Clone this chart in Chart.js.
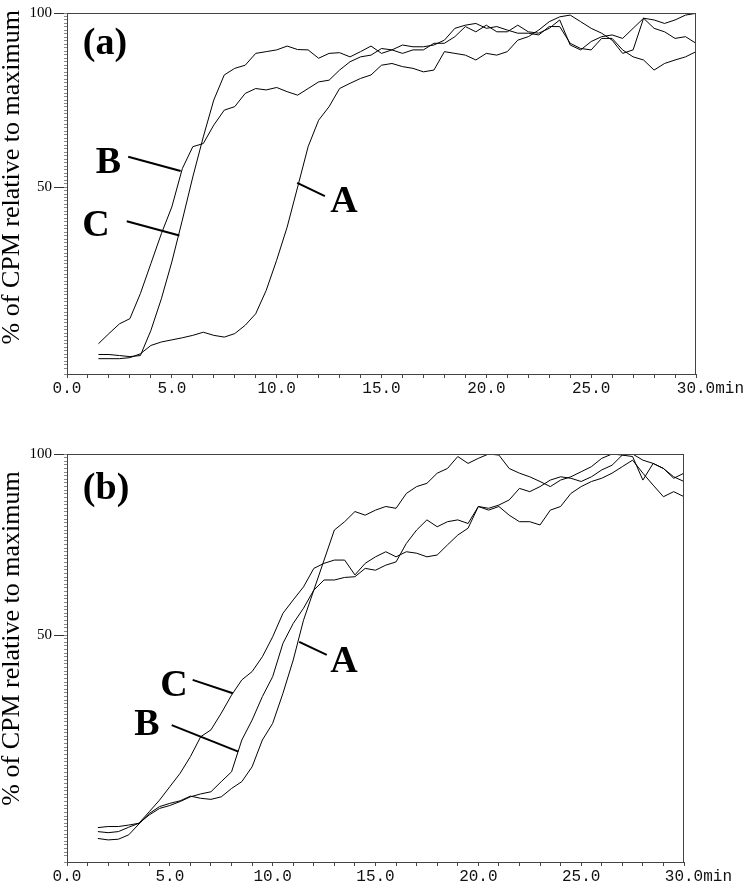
<!DOCTYPE html>
<html>
<head>
<meta charset="utf-8">
<script src="https://cdn.jsdelivr.net/npm/chart.js@4.4.1/dist/chart.umd.min.js"></script>
<style>
  html, body { margin: 0; padding: 0; background: #fff; }
  #wrap { position: relative; width: 750px; height: 881px; }
  canvas { position: absolute; left: 0; }
  #chartA { top: 0; }
  #chartB { top: 440px; }
</style>
</head>
<body>
<div id="wrap">
  <canvas id="chartA" width="750" height="440"></canvas>
  <canvas id="chartB" width="750" height="441"></canvas>
</div>
<script>
// time axis (min) shared by all traces
const minutes = [1.5, 2, 2.5, 3, 3.5, 4, 4.5, 5, 5.5, 6, 6.5, 7, 7.5, 8, 8.5, 9, 9.5, 10,
  10.5, 11, 11.5, 12, 12.5, 13, 13.5, 14, 14.5, 15, 15.5, 16, 16.5, 17, 17.5, 18, 18.5, 19,
  19.5, 20, 20.5, 21, 21.5, 22, 22.5, 23, 23.5, 24, 24.5, 25, 25.5, 26, 26.5, 27, 27.5, 28,
  28.5, 29, 29.5, 30];

// panel (a), % of CPM relative to maximum
const aCurveA = [0.7, 0.7, 0.7, 1.0, 2.1, 4.5, 5.5, 6.1, 6.7, 7.4,
  8.3, 7.4, 6.9, 7.9, 10.3, 13.6, 20.3, 29.0, 38.5, 50.0,
  61.6, 69.2, 73.1, 78.3, 79.8, 81.2, 82.2, 85.0, 85.5, 84.6,
  84.1, 83.1, 83.6, 88.9, 88.4, 87.9, 86.5, 88.4, 87.9, 88.9,
  92.2, 93.2, 95.1, 97.5, 98.9, 99.4, 97.5, 95.6, 94.2, 92.2,
  88.4, 89.4, 98.5, 98.0, 97.0, 98.0, 99.4, 99.9];
const aCurveB = [5.0, 7.9, 10.7, 12.2, 19.4, 28.0, 36.6, 44.3, 55.3, 61.6,
  62.5, 67.8, 72.1, 73.1, 76.9, 78.3, 77.9, 78.6, 77.4, 76.4,
  78.3, 80.2, 80.7, 83.6, 86.0, 87.4, 87.9, 89.8, 89.4, 90.8,
  90.3, 90.3, 90.8, 92.2, 95.6, 96.5, 97.0, 95.6, 96.1, 95.1,
  94.2, 94.2, 93.7, 96.1, 96.1, 91.3, 89.8, 89.4, 92.7, 92.7,
  89.4, 87.4, 86.5, 83.6, 85.5, 86.5, 87.4, 88.9];
const aCurveC = [1.9, 1.9, 1.6, 1.3, 1.6, 8.8, 17.9, 28.5, 40.5, 52.9,
  64.4, 75.0, 82.2, 84.1, 85.0, 88.4, 88.9, 89.4, 90.5, 89.5,
  89.4, 87.0, 88.4, 88.6, 87.4, 88.9, 90.5, 88.4, 89.4, 88.4,
  89.4, 89.4, 91.3, 91.3, 93.2, 96.1, 94.6, 96.5, 94.6, 94.6,
  96.5, 94.6, 94.2, 95.6, 98.0, 90.8, 89.4, 91.8, 93.2, 93.7,
  92.7, 95.6, 98.5, 95.6, 94.6, 92.7, 93.2, 91.3];

// panel (b)
const bCurveA = [-6.2, -6.6, -6.4, -5.2, -2.2, 0.7, 2.6, 3.5, 4.2, 5.5,
  4.9, 4.6, 5.3, 7.6, 9.5, 13.6, 21.0, 25.6, 33.9, 43.1,
  54.1, 62.4, 70.7, 79.0, 81.3, 84.1, 83.1, 84.5, 85.5, 85.0,
  89.1, 91.0, 91.9, 94.7, 96.0, 99.3, 97.4, 98.8, 100, 99.7,
  96.0, 94.7, 93.7, 92.4, 91.0, 92.8, 93.7, 95.1, 96.5, 98.8,
  100, 99.7, 99.3, 92.8, 97.4, 96.0, 93.3, 94.7];
const bCurveB = [-4.3, -4.6, -4.3, -3.1, -2.0, 0.3, 2.1, 2.9, 4.0, 5.3,
  6.1, 6.7, 9.5, 12.2, 21.0, 26.5, 33.0, 38.5, 47.7, 53.2,
  57.4, 62.4, 65.2, 65.2, 65.9, 66.1, 68.4, 67.9, 69.3, 70.2,
  75.3, 79.0, 81.8, 79.9, 81.3, 81.8, 80.8, 85.5, 85.0, 85.9,
  87.3, 90.5, 89.6, 91.0, 92.8, 93.7, 93.3, 92.4, 93.7, 95.6,
  96.9, 99.7, 100, 98.3, 97.4, 96.0, 93.7, 92.4];
const bCurveC = [-3.2, -2.9, -2.9, -2.5, -2.0, 1.2, 4.4, 8.1, 11.8, 16.4,
  21.9, 23.8, 28.4, 33.4, 37.6, 39.9, 44.0, 49.5, 56.0, 59.7,
  63.3, 68.4, 69.8, 70.7, 70.7, 66.6, 69.8, 71.6, 73.0, 71.6,
  73.0, 72.6, 71.6, 72.1, 74.9, 77.6, 79.5, 85.5, 84.5, 85.5,
  83.1, 81.3, 81.3, 80.4, 84.5, 85.5, 89.1, 91.0, 92.4, 93.3,
  94.7, 96.5, 98.3, 94.7, 91.4, 88.2, 89.6, 88.2];

// axis labels
const xTickLabels = ['0.0', '5.0', '10.0', '15.0', '20.0', '25.0', '30.0'];
const yTickValues = [50, 100];
const yTitle = '% of CPM relative to maximum';

const SERIF = '"Liberation Serif", "Times New Roman", serif';
const MONO = '"Liberation Mono", "Courier New", monospace';

function toPoints(values) {
  return values.map((v, i) => ({ x: minutes[i], y: v }));
}

// panel letters, curve names and their leader lines (data coordinates)
const annotate = {
  id: 'annotate',
  afterDatasetsDraw(chart, args, opts) {
    const { ctx, chartArea: a } = chart;
    const xs = chart.scales.x, ys = chart.scales.y;
    ctx.save();

    // frame round the plot
    ctx.strokeStyle = '#444';
    ctx.lineWidth = 1;
    ctx.strokeRect(a.left + 0.5, a.top + 0.5, a.right - a.left - 1, a.bottom - a.top);

    ctx.strokeStyle = '#000';
    ctx.lineWidth = 2;
    opts.leaders.forEach(([x1, y1, x2, y2]) => {
      ctx.beginPath();
      ctx.moveTo(xs.getPixelForValue(x1), ys.getPixelForValue(y1));
      ctx.lineTo(xs.getPixelForValue(x2), ys.getPixelForValue(y2));
      ctx.stroke();
    });

    ctx.fillStyle = '#000';
    ctx.font = 'bold 38px ' + SERIF;
    ctx.textAlign = 'center';
    ctx.textBaseline = 'alphabetic';
    opts.labels.forEach(l => {
      ctx.fillText(l.text, xs.getPixelForValue(l.x), ys.getPixelForValue(l.y));
    });

    // "min" unit right after the last tick label
    const tf = xs.options.ticks.font;
    ctx.font = tf.size + 'px ' + tf.family;
    ctx.fillStyle = '#111';
    ctx.textAlign = 'left';
    ctx.textBaseline = 'middle';
    const last = xTickLabels[xTickLabels.length - 1];
    const ux = xs.getPixelForValue(30) + ctx.measureText(last).width / 2;
    const uy = xs.top + xs.options.grid.tickLength + xs.options.ticks.padding + tf.size * 1.2 / 2;
    ctx.fillText('min', ux, uy);
    ctx.restore();
  }
};

function makePanel(id, series, p) {
  return new Chart(document.getElementById(id), {
    type: 'line',
    data: {
      datasets: series.map(s => ({
        data: toPoints(s),
        borderColor: '#000',
        borderWidth: 1,
        pointRadius: 0,
        tension: 0,
        fill: false
      }))
    },
    options: {
      responsive: false,
      animation: false,
      devicePixelRatio: 1,
      layout: { padding: { top: p.top, right: p.right, left: 0, bottom: 0 } },
      scales: {
        x: {
          type: 'linear',
          min: 0,
          max: 30,
          afterFit: s => { s.height = p.xHeight; },
          grid: { drawOnChartArea: false, tickLength: 4, color: '#444' },
          border: { color: '#444' },
          ticks: {
            stepSize: 1,
            autoSkip: false,
            maxRotation: 0,
            padding: 1,
            color: '#111',
            font: { family: MONO, size: 16 },
            callback: v => (v % 5 === 0 ? xTickLabels[v / 5] : '')
          }
        },
        y: {
          min: p.yMin,
          max: 100,
          afterFit: s => { s.width = 67; },
          afterBuildTicks: s => { s.ticks = yTickValues.map(v => ({ value: v })); },
          grid: { drawOnChartArea: false, tickLength: 13, color: '#333' },
          border: { color: '#444' },
          ticks: {
            padding: 2,
            color: '#000',
            font: { family: SERIF, size: 15 },
            callback: v => String(v)
          },
          title: {
            display: true,
            // leading spaces lift the title a little, as in the original
            text: ' '.repeat(p.titleLift) + yTitle,
            color: '#000',
            padding: { top: -1, bottom: 0 },
            font: { family: SERIF, size: 26, lineHeight: 1 }
          }
        },
        // fine unlabelled ticks along the y axis
        yMinor: {
          position: 'left',
          weight: -1,
          min: p.yMin,
          max: 100,
          afterFit: s => { s.width = 0; },
          grid: { drawOnChartArea: false, tickLength: 3, color: '#888' },
          border: { display: false },
          ticks: { display: false, stepSize: 1, maxTicksLimit: 200 }
        }
      },
      plugins: {
        legend: { display: false },
        tooltip: { enabled: false },
        annotate: { labels: p.labels, leaders: p.leaders }
      }
    },
    plugins: [annotate]
  });
}

makePanel('chartA', [aCurveA, aCurveB, aCurveC], {
  top: 13, right: 54, xHeight: 66, yMin: -3.7, titleLift: 5,
  labels: [
    { text: '(a)', x: 1.81, y: 88.1 },
    { text: 'B', x: 1.98, y: 54.0 },
    { text: 'C', x: 1.38, y: 35.8 },
    { text: 'A', x: 13.21, y: 42.7 }
  ],
  leaders: [[2.92, 58.7, 5.42, 54.6], [2.85, 40.2, 5.36, 36.1], [10.98, 51.2, 12.30, 47.4]]
});

makePanel('chartB', [bCurveA, bCurveB, bCurveC], {
  top: 14, right: 66, xHeight: 19, yMin: -12.7, titleLift: 6,
  labels: [
    { text: '(b)', x: 1.90, y: 87.6 },
    { text: 'A', x: 13.47, y: 39.8 },
    { text: 'C', x: 5.20, y: 33.1 },
    { text: 'B', x: 3.89, y: 22.4 }
  ],
  leaders: [[11.29, 48.1, 12.63, 44.5], [6.11, 37.6, 8.06, 33.9], [5.09, 25.1, 8.33, 17.8]]
});
</script>
</body>
</html>
